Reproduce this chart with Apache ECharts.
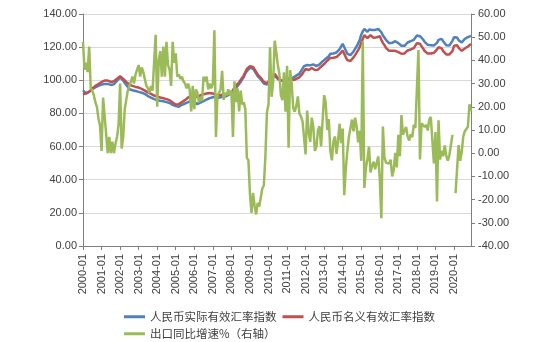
<!DOCTYPE html>
<html><head><meta charset="utf-8">
<script src="https://cdn.jsdelivr.net/npm/echarts@6/dist/echarts.min.js"></script>
<style>html,body{margin:0;padding:0;background:#fff}#c{width:546px;height:342px}</style>
</head><body><div id="c"></div>
<script>
const years = [2000,2001,2002,2003,2004,2005,2006,2007,2008,2009,2010,2011,2012,2013,2014,2015,2016,2017,2018,2019,2020];
const monthNames = ['01','02','03','04','05','06','07','08','09','10','11','12'];
const categories = [];
years.forEach(y => monthNames.forEach(m => categories.push(y + '-' + m)));

const seriesNames = ['人民币实际有效汇率指数', '人民币名义有效汇率指数', '出口同比增速%（右轴）'];

const reer = [
 94.0,93.0,92.0,92.4,93.0,93.8,94.6,95.2,95.8,96.2,96.6,97.0,
 97.4,97.6,97.8,98.0,97.8,97.5,97.2,97.0,97.6,98.6,99.6,100.8,
 101.8,101.0,99.8,98.4,97.4,96.0,94.6,94.3,94.0,93.8,93.5,93.3,
 93.0,92.8,92.5,92.3,91.8,91.0,90.5,89.9,89.5,89.0,88.6,88.1,
 88.0,87.8,87.6,87.4,87.3,87.0,86.8,86.6,86.3,85.8,85.2,84.6,
 84.4,84.2,84.0,84.6,85.2,85.7,86.0,86.3,86.8,87.3,87.6,87.4,
 86.8,86.2,85.6,86.0,86.6,87.0,87.4,87.8,88.4,88.8,89.2,89.6,
 89.8,90.0,90.2,89.8,89.4,89.6,90.0,89.8,90.2,90.6,91.0,91.8,
 92.5,93.5,94.5,95.5,96.5,97.5,99.0,100.5,102.0,104.0,105.5,106.5,
 107.5,108.0,107.0,105.5,104.0,102.5,101.5,100.5,99.5,98.0,97.0,97.5,
 98.8,99.5,100.5,101.5,102.8,101.8,100.8,100.0,99.8,99.5,99.8,100.2,
 101.0,101.8,101.5,101.0,101.6,102.4,102.8,103.0,104.0,105.5,107.0,108.5,
 109.6,109.2,108.8,109.0,110.0,109.6,108.8,108.6,108.8,109.6,110.6,111.4,
 112.0,113.0,114.0,114.5,116.0,116.8,116.2,116.4,116.8,117.6,118.8,120.4,
 122.0,121.2,118.0,116.0,115.0,115.2,116.0,117.4,119.0,120.4,122.4,124.2,
 127.5,129.5,131.0,130.2,129.2,130.6,131.2,130.4,129.8,130.4,130.2,131.0,
 131.2,129.0,127.0,126.0,124.4,123.6,122.4,122.0,122.6,122.8,123.6,123.2,
 122.4,121.6,120.8,120.4,120.8,122.0,122.8,123.0,123.6,124.0,124.4,125.0,
 127.0,127.4,126.6,125.8,124.6,123.2,122.0,121.4,121.0,121.2,121.4,121.0,
 121.4,122.6,124.4,125.2,125.0,123.6,122.4,121.2,120.8,121.0,122.2,123.8,
 126.0,127.2,125.8,124.2,123.0,122.8,123.6,125.0,125.8,126.0,126.6,126.8
];
const neer = [
 91.5,91.8,92.2,92.6,93.2,94.0,95.0,95.8,96.6,97.2,97.8,98.4,
 99.0,99.4,99.8,100.0,99.8,99.4,99.0,98.8,99.4,100.2,101.0,101.8,
 102.4,101.8,100.8,99.8,99.0,98.2,97.4,97.0,96.6,96.4,96.0,95.8,
 95.6,95.2,94.8,94.3,93.8,93.2,92.7,92.3,91.8,91.3,90.8,90.3,
 90.2,90.0,89.6,89.4,89.2,88.8,88.6,88.4,88.0,87.4,86.6,85.8,
 85.4,85.2,85.6,86.2,86.8,87.3,88.0,88.8,89.6,90.3,90.8,91.0,
 90.6,90.2,89.8,90.4,91.0,91.4,91.6,91.8,92.0,92.2,92.3,92.2,
 92.0,91.6,91.3,91.0,90.8,91.0,91.3,91.2,91.4,91.6,91.8,92.2,
 92.6,93.8,95.5,96.8,97.8,98.8,100.0,101.5,103.0,105.0,106.8,107.8,
 108.5,109.0,108.0,106.5,105.0,103.5,102.5,101.5,100.5,99.0,98.0,98.3,
 99.3,100.2,101.2,102.4,103.9,102.6,101.2,100.4,100.0,99.6,99.6,99.8,
 100.6,100.8,100.4,99.8,100.2,100.6,100.8,101.0,101.8,103.0,104.0,105.5,
 106.8,106.5,106.2,106.6,107.4,107.0,106.2,106.0,106.4,107.2,108.2,109.0,
 109.8,110.8,111.8,112.2,113.5,114.2,113.6,113.8,114.0,114.8,115.8,117.0,
 117.9,117.0,114.0,112.2,111.4,111.6,112.4,113.8,115.2,116.4,118.2,120.0,
 122.8,125.0,127.2,126.4,125.4,126.6,127.2,126.4,125.6,126.2,126.0,126.8,
 126.6,124.4,122.6,121.2,119.6,118.6,117.8,117.4,117.8,117.6,117.8,117.4,
 117.0,116.6,116.0,115.8,116.2,117.2,118.0,118.2,118.6,119.0,119.4,120.0,
 122.4,122.8,122.0,120.8,119.2,117.6,116.6,116.2,116.0,116.2,116.4,116.6,
 117.6,118.6,120.0,120.4,119.2,117.6,116.6,115.6,115.2,115.6,116.6,117.6,
 120.8,121.8,121.2,119.6,118.4,117.8,118.2,119.2,119.8,120.4,121.4,122.0
];
const exportYoY = [
 48,36,39,35,46,28,27,25,22,20,15,12,
 1,24,16,8,0,7,0,5,0,4,7,12,
 30,2,7,19,19,27,29,31,33,30,34,36,
 38,33,37,35,32,29,28,26,29,27,27,51,
 20,40,44,33,46,33,48,38,36,29,48,39,
 43,33,34,32,33,31,30,28,30,27.5,18,29,
 19,27.5,26,22,24,22.5,33,31,33,27.5,30,28,
 30,53,7,25,26,27.5,35.5,23,26,25,27.5,25,
 27,7,31,22,28,18,27,21,22,19,-2,-3,
 -17.5,-25.7,-17.1,-22.6,-26.4,-21.4,-23,-23.4,-15.2,-13.8,-1.2,17.7,
 21,45.7,24.3,30.5,48.5,43.9,38.1,34.4,25.1,22.9,34.9,17.9,
 37.7,2.4,35.8,29.9,19.4,17.9,20.4,24.5,17.1,15.9,13.8,13.4,
 -0.5,18.4,8.9,4.9,15.3,11.3,1,2.7,9.9,11.6,2.9,14.1,
 25,21.8,10,14.7,1,-3.1,5.1,7.2,-0.3,5.6,12.7,4.3,
 10.6,-18.1,-6.6,0.9,7,7.2,14.5,9.4,15.3,11.6,4.7,9.7,
 -3.3,48.3,-15,-6.4,-2.5,2.8,-8.3,-5.5,-3.7,-6.9,-6.8,-1.4,
 -11.2,-28,11.5,-1.8,-4.1,-4.8,-4.4,-2.8,-10,-7.3,0.1,-6.1,
 7.9,-1.3,16.4,8,8.7,11.3,7.2,5.5,8.1,6.9,12.3,10.9,
 11.1,44.5,-2.7,12.9,12.6,11.3,12.2,9.8,14.5,15.6,5.4,-4.4,
 9.1,-20.8,14.2,-2.7,1.1,-1.3,3.3,-1,-3.2,-0.9,-1.1,7.9,
 null,-17.2,-6.6,3.5,-3.3,0.5,7.2,9.5,9.9,11.4,21.1,18.1
];
const colors = ['#4F81BD', '#C0504D', '#9BBB59'];

const chart = echarts.init(document.getElementById('c'), null, {renderer: 'canvas'});
const txt = '#404040';
const axisCol = '#7F7F7F';
const fmt = v => v.toFixed(2);
chart.setOption({
  animation: false,
  backgroundColor: '#fff',
  grid: {left: 83, right: 75, top: 14, bottom: 96, containLabel: false},
  legend: [
    {data: [seriesNames[0], seriesNames[1]], left: 124, top: 311, padding: 0, itemGap: 6, itemWidth: 21, itemHeight: 3, icon: 'rect',
     textStyle: {color: txt, fontSize: 11.5, fontFamily: 'Noto Sans CJK SC'}},
    {data: [seriesNames[2]], left: 124, top: 328, padding: 0, itemWidth: 21, itemHeight: 3, icon: 'rect',
     textStyle: {color: txt, fontSize: 11.5, fontFamily: 'Noto Sans CJK SC'}}
  ],
  xAxis: {
    type: 'category', data: categories, boundaryGap: false,
    axisLine: {lineStyle: {color: axisCol, width: 1}},
    axisTick: {interval: 11, length: 4, lineStyle: {color: axisCol}},
    axisLabel: {interval: 11, rotate: 90, margin: 8, color: txt, fontSize: 11, fontFamily: 'Liberation Sans'},
    splitLine: {show: false}
  },
  yAxis: [
    {type: 'value', min: 0, max: 140, interval: 20, position: 'left',
     axisLine: {show: true, lineStyle: {color: axisCol}},
     axisTick: {show: true, length: 4, lineStyle: {color: axisCol}},
     axisLabel: {formatter: fmt, color: txt, fontSize: 11, fontFamily: 'Liberation Sans', margin: 6},
     splitLine: {show: true, lineStyle: {color: '#D9D9D9', width: 1}}},
    {type: 'value', min: -40, max: 60, interval: 10, position: 'right',
     axisLine: {show: true, onZero: false, lineStyle: {color: axisCol}},
     axisTick: {show: true, length: 4, lineStyle: {color: axisCol}},
     axisLabel: {formatter: fmt, color: txt, fontSize: 11, fontFamily: 'Liberation Sans', margin: 7},
     splitLine: {show: false}}
  ],
  series: [
    {name: seriesNames[0], type: 'line', data: reer, yAxisIndex: 0, symbol: 'none', lineStyle: {width: 2.5, color: colors[0]}, itemStyle: {color: colors[0]}},
    {name: seriesNames[1], type: 'line', data: neer, yAxisIndex: 0, symbol: 'none', lineStyle: {width: 2.5, color: colors[1]}, itemStyle: {color: colors[1]}},
    {name: seriesNames[2], type: 'line', data: exportYoY, yAxisIndex: 1, symbol: 'none', connectNulls: false, lineStyle: {width: 2.5, color: colors[2]}, itemStyle: {color: colors[2]}}
  ]
});
</script>
</body></html>
